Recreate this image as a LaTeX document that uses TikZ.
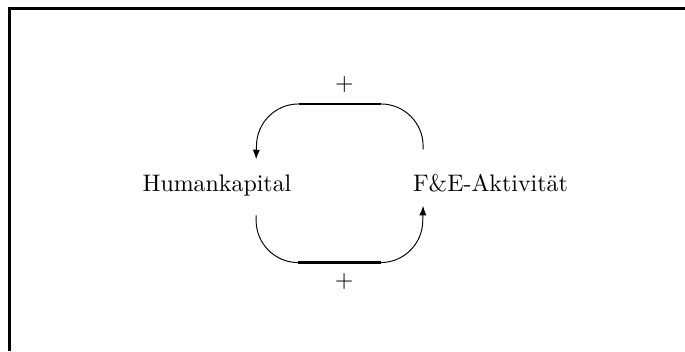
\documentclass[tikz,border=0pt]{standalone}
\usepackage{tikz}
\usetikzlibrary{arrows.meta}

\begin{document}
\begin{tikzpicture}[link/.style={line width=0.4pt, -{Latex[length=4pt,width=3pt]}},
                    bar/.style={line width=1.1pt}]
        \useasboundingbox (0,0) rectangle (10.07,-5.16);
        \draw[line width=1.25pt] (0.14,-5.16) -- (0.14,-0.118) -- (10.07,-0.118);
        \node[anchor=base] (hk) at (3.19,-2.81) {Humankapital};
        \node[anchor=base] (fe) at (7.21,-2.81) {F\&E-Aktivit\"at};
        % F&E -> Humankapital (oben)
        \draw[link] ([xshift=-0.99cm,yshift=0.24cm]fe.north) -- ++(0,0.046) arc (0:90:0.62) coordinate (o1)
            -- ++(-1.21,0) coordinate (o2) arc (90:180:0.62) -- ([xshift=0.575cm,yshift=0.1cm]hk.north);
        \draw[bar] (o1) -- (o2) node[midway,xshift=0.07cm,yshift=0.28cm] {$+$};
        % Humankapital -> F&E (unten)
        \draw[link] ([xshift=0.575cm,yshift=-0.165cm]hk.south) -- ++(0,-0.073) arc (180:270:0.62) coordinate (u1)
            -- ++(1.21,0) coordinate (u2) arc (270:360:0.62) -- ([xshift=-0.99cm,yshift=-0.083cm]fe.south);
        \draw[bar] (u1) -- (u2) node[midway,xshift=0.07cm,yshift=-0.277cm] {$+$};
    \end{tikzpicture}
\end{document}
